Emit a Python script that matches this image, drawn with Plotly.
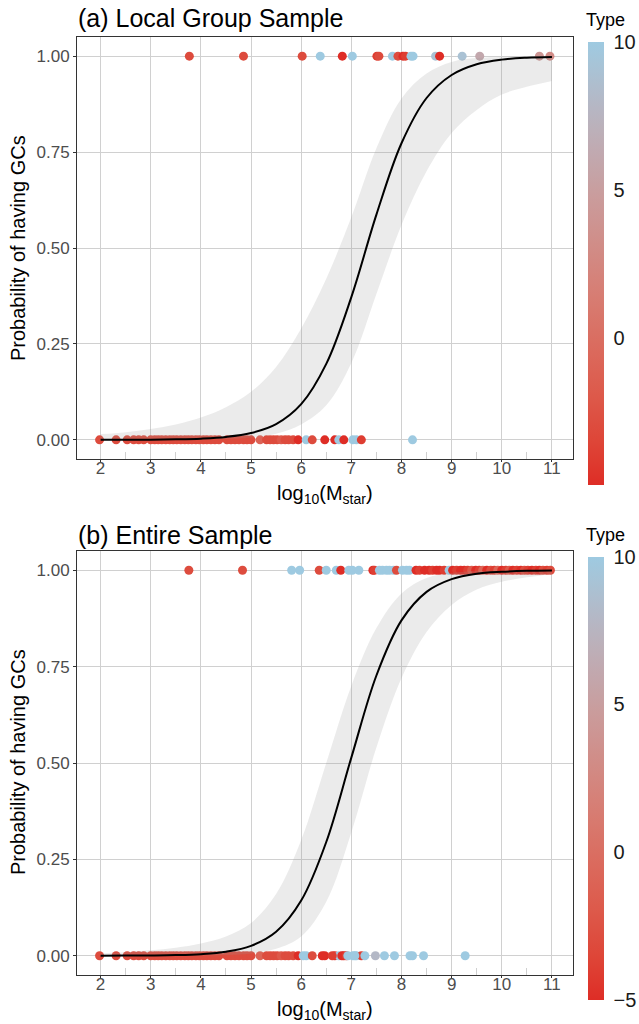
import plotly.graph_objects as go

# ---------------- data ----------------
# (a) Local Group sample: galaxies with GCs (y = 1)
lg_gc_mass = [3.77, 4.85, 6.02, 6.38, 6.82, 7.02, 7.51, 7.55, 7.82, 7.93, 8.03, 8.08,
              8.19, 8.23, 8.68, 8.76, 9.21, 9.56, 10.75, 10.96]
lg_gc_type = [-3, -3, -3, 10, -5, 10, -4, -3, 10, -3, -5, -4,
              10, 10, 9, -5, 9, 6, 4, 3]

# (a) Local Group sample: galaxies without GCs (y = 0)
lg_nogc_mass = [1.98, 2.31, 2.53, 2.66, 2.76, 2.86, 3.00, 3.08, 3.15, 3.22, 3.30, 3.38,
                3.45, 3.52, 3.60, 3.68, 3.75, 3.82, 3.90, 3.97, 4.05, 4.12, 4.20, 4.28,
                4.36, 4.52, 4.60, 4.68, 4.76, 4.85, 4.92, 5.00, 5.18, 5.31, 5.38, 5.45,
                5.52, 5.60, 5.68, 5.75, 5.84, 5.94, 6.10, 6.22, 6.47, 6.67, 6.75, 6.85,
                7.03, 7.10, 7.20, 8.22]
lg_nogc_type = [-3, -3, -3, -3, -3, -3, -3, -3, -3, -3, -3, -3,
                -3, -3, -3, -3, -3, -3, -3, -3, -3, -3, -3, -3,
                -3, -3, -3, -3, -3, -3, -3, -3, -1, -3, -3, -3,
                -3, -2, -3, -3, -3, -5, 10, -3, -5, -5, 10, -5,
                10, 10, -4, 10]

# (b) Entire sample: galaxies with GCs (y = 1)
all_gc_mass = [3.76, 4.83, 5.81, 5.97, 6.36, 6.50, 6.70, 6.79, 6.95, 7.02, 7.15, 7.43,
               7.46, 7.56, 7.62, 7.70, 7.76, 7.84, 7.90, 8.02, 8.10, 8.16, 8.29, 8.36,
               8.46, 8.55, 8.62, 8.70, 8.76, 8.85, 8.95, 9.02, 9.10, 9.18, 9.25, 9.32,
               9.40, 9.48, 9.55, 9.62, 9.70, 9.78, 9.85, 9.92, 10.00, 10.08, 10.15, 10.22,
               10.30, 10.38, 10.45, 10.52, 10.60, 10.68, 10.75, 10.82, 10.90, 10.97]
all_gc_type = [-3, -3, 10, 10, -3, 10, 10, -5, 10, 10, 10, -5,
               -4, 10, 10, 10, 10, 10, -3, 10, 10, 10, -5, -4,
               -5, -5, -4, -5, -5, -4, 10, -5, -4, -5, -5, -4,
               -2, -5, -4, -1, -5, -3, -4, -1, -5, -4, -2, -5,
               -4, -5, -3, -4, -5, -4, -5, -3, -4, -3]

# (b) Entire sample: galaxies without GCs (y = 0)
all_nogc_mass = lg_nogc_mass + [6.04, 6.42, 6.62, 6.81, 6.90, 6.93, 7.07, 7.27, 7.48,
                                7.66, 7.86, 8.17, 8.44, 9.27]
all_nogc_type = lg_nogc_type + [10, -5, -4, -5, -4, 10, 10, 10, 8,
                                10, 10, 10, 10, 10]

# logistic fits with 95% bands
fit_mass = [2.0, 2.5, 3.0, 3.5, 4.0, 4.5, 5.0, 5.5, 6.0, 6.5, 7.0, 7.5, 8.0, 8.5,
            9.0, 9.5, 10.0, 10.5, 11.0]
lg_fit = [0.0001, 0.0002, 0.0005, 0.0013, 0.0031, 0.0074, 0.0176, 0.041, 0.093, 0.198,
          0.372, 0.587, 0.773, 0.891, 0.951, 0.979, 0.991, 0.996, 0.998]
lg_lo = [0.0, 0.0, 0.0001, 0.0003, 0.001, 0.002, 0.006, 0.016, 0.04, 0.09,
         0.20, 0.38, 0.56, 0.70, 0.80, 0.86, 0.90, 0.92, 0.935]
lg_hi = [0.015, 0.02, 0.028, 0.04, 0.058, 0.085, 0.125, 0.19, 0.29, 0.42,
         0.58, 0.76, 0.89, 0.955, 0.985, 0.995, 0.998, 0.999, 1.0]
all_fit = [0.0001, 0.0003, 0.0007, 0.0016, 0.0041, 0.0103, 0.0255, 0.062, 0.143, 0.295,
           0.514, 0.727, 0.870, 0.944, 0.977, 0.991, 0.996, 0.9985, 0.9994]
all_lo = [0.0, 0.0, 0.0001, 0.0002, 0.0006, 0.002, 0.006, 0.018, 0.05, 0.14,
          0.32, 0.54, 0.72, 0.84, 0.91, 0.95, 0.97, 0.982, 0.99]
all_hi = [0.006, 0.009, 0.014, 0.021, 0.032, 0.05, 0.085, 0.16, 0.30, 0.50,
          0.70, 0.85, 0.94, 0.98, 0.993, 0.998, 0.999, 1.0, 1.0]

x_ticks = [2, 3, 4, 5, 6, 7, 8, 9, 10, 11]
y_ticks = [0, 0.25, 0.5, 0.75, 1.0]


# ---------------- colour scale (Lab interpolation) ----------------
def _hex_rgb(h):
    h = h.lstrip("#")
    return [int(h[i:i + 2], 16) for i in (0, 2, 4)]


def _rgb_lab(rgb):
    lin = []
    for c in rgb:
        c = c / 255.0
        lin.append(c / 12.92 if c <= 0.04045 else ((c + 0.055) / 1.055) ** 2.4)
    r, g, b = lin
    X = (0.4124 * r + 0.3576 * g + 0.1805 * b) / 0.95047
    Y = 0.2126 * r + 0.7152 * g + 0.0722 * b
    Z = (0.0193 * r + 0.1192 * g + 0.9505 * b) / 1.08883

    def f(t):
        return t ** (1 / 3) if t > 0.008856 else 7.787 * t + 16 / 116
    return [116 * f(Y) - 16, 500 * (f(X) - f(Y)), 200 * (f(Y) - f(Z))]


def _lab_rgb(lab):
    L, a, b = lab
    fy = (L + 16) / 116
    fx = fy + a / 500
    fz = fy - b / 200

    def finv(t):
        return t ** 3 if t ** 3 > 0.008856 else (t - 16 / 116) / 7.787
    X, Y, Z = finv(fx) * 0.95047, finv(fy), finv(fz) * 1.08883
    r = 3.2406 * X - 1.5372 * Y - 0.4986 * Z
    g = -0.9689 * X + 1.8758 * Y + 0.0415 * Z
    bb = 0.0557 * X - 0.2040 * Y + 1.0570 * Z
    out = []
    for c in (r, g, bb):
        c = 12.92 * c if c <= 0.0031308 else 1.055 * c ** (1 / 2.4) - 0.055
        out.append(int(round(min(max(c, 0), 1) * 255)))
    return out


low_lab = _rgb_lab(_hex_rgb("#DE2D26"))
high_lab = _rgb_lab(_hex_rgb("#9ECAE1"))
n_stops = 21
type_scale = []
for i in range(n_stops):
    t = i / (n_stops - 1)
    lab = [lo + (hi - lo) * t for lo, hi in zip(low_lab, high_lab)]
    r, g, b = _lab_rgb(lab)
    type_scale.append([t, f"rgb({r},{g},{b})"])

# ---------------- figure ----------------
W, H = 639, 1024
FONT = "Liberation Sans, Arial, Helvetica, sans-serif"
BAND = "rgba(153,153,153,0.2)"


def px_x(p):
    return p / W


def px_y(p):
    return 1 - p / H


fig = go.Figure()

panels = [
    dict(xa="x", ya="y", cax="coloraxis", gc_m=lg_gc_mass, gc_t=lg_gc_type,
         no_m=lg_nogc_mass, no_t=lg_nogc_type, fit=lg_fit, lo=lg_lo, hi=lg_hi),
    dict(xa="x2", ya="y2", cax="coloraxis2", gc_m=all_gc_mass, gc_t=all_gc_type,
         no_m=all_nogc_mass, no_t=all_nogc_type, fit=all_fit, lo=all_lo, hi=all_hi),
]

for p in panels:
    fig.add_trace(go.Scatter(
        x=p["no_m"], y=[0] * len(p["no_m"]), mode="markers", xaxis=p["xa"], yaxis=p["ya"],
        marker=dict(size=9, color=p["no_t"], coloraxis=p["cax"], line=dict(width=0)),
        showlegend=False, hoverinfo="x+y"))
    fig.add_trace(go.Scatter(
        x=p["gc_m"], y=[1] * len(p["gc_m"]), mode="markers", xaxis=p["xa"], yaxis=p["ya"],
        marker=dict(size=9, color=p["gc_t"], coloraxis=p["cax"], line=dict(width=0)),
        showlegend=False, hoverinfo="x+y"))
    fig.add_trace(go.Scatter(
        x=fit_mass, y=p["hi"], mode="lines", line=dict(width=0, shape="spline"),
        xaxis=p["xa"], yaxis=p["ya"], showlegend=False, hoverinfo="skip"))
    fig.add_trace(go.Scatter(
        x=fit_mass, y=p["lo"], mode="lines", line=dict(width=0, shape="spline"),
        fill="tonexty", fillcolor=BAND,
        xaxis=p["xa"], yaxis=p["ya"], showlegend=False, hoverinfo="skip"))
    fig.add_trace(go.Scatter(
        x=fit_mass, y=p["fit"], mode="lines", line=dict(color="black", width=2, shape="spline"),
        xaxis=p["xa"], yaxis=p["ya"], showlegend=False))

x_dom = [px_x(77), px_x(573)]
dom_a = [px_y(459), px_y(37)]
dom_b = [px_y(975), px_y(551)]

xaxis_style = dict(
    range=[1.53, 11.42], tickvals=x_ticks, ticks="outside", ticklen=2, tickcolor="#333333",
    ticklabelstandoff=-8,
    tickfont=dict(size=17, color="#4D4D4D", family=FONT),
    showgrid=True, gridcolor="#D0D0D0", gridwidth=1, zeroline=False,
    showline=True, linecolor="#333333", linewidth=1, mirror=True,
    minor=dict(dtick=0.5, tick0=0, showgrid=False, ticks="inside", ticklen=7,
               tickcolor="#D0D0D0"),
    domain=x_dom,
)
yaxis_style = dict(
    range=[-0.05, 1.05], tickvals=y_ticks, ticktext=[f"{v:.2f}" for v in y_ticks],
    ticks="outside", ticklen=3, tickcolor="#333333",
    tickfont=dict(size=17, color="#4D4D4D", family=FONT),
    showgrid=True, gridcolor="#D0D0D0", gridwidth=1, zeroline=False,
    showline=True, linecolor="#333333", linewidth=1, mirror=True,
)

fig.update_layout(
    xaxis=dict(**xaxis_style, anchor="y"),
    yaxis=dict(**yaxis_style, domain=dom_a, anchor="x"),
    xaxis2=dict(**xaxis_style, anchor="y2"),
    yaxis2=dict(**yaxis_style, domain=dom_b, anchor="x2"),
)

cbar_common = dict(
    thickness=16, lenmode="pixels", len=443, x=px_x(588), xanchor="left", xpad=0, ypad=0,
    yanchor="middle", outlinewidth=0, ticks="outside", ticklen=6,
    tickcolor="rgba(0,0,0,0)",
    tickfont=dict(size=20, color="#1A1A1A", family=FONT), tickvals=[-5, 0, 5, 10],
)
fig.update_layout(
    coloraxis=dict(colorscale=type_scale, cmin=-4.95, cmax=10,
                   colorbar=dict(**cbar_common, y=px_y((42 + 485) / 2))),
    coloraxis2=dict(colorscale=type_scale, cmin=-5, cmax=10,
                    colorbar=dict(**cbar_common, y=px_y((557 + 999) / 2))),
)

annotations = []
for title, top, title_y, type_y, xtitle_y in [
        ("(a) Local Group Sample", 37, 18, 20, 494),
        ("(b) Entire Sample", 551, 535, 535, 1010)]:
    annotations.append(dict(text=title, x=px_x(76), y=px_y(title_y), xref="paper", yref="paper",
                            xanchor="left", yanchor="middle", showarrow=False,
                            font=dict(size=25, color="black", family=FONT)))
    annotations.append(dict(text="Type", x=px_x(584), y=px_y(type_y), xref="paper", yref="paper",
                            xanchor="left", yanchor="middle", showarrow=False,
                            font=dict(size=18, color="black", family=FONT)))
    annotations.append(dict(text="Probability of having GCs", x=px_x(18),
                            y=px_y(top + 211), xref="paper", yref="paper",
                            xanchor="center", yanchor="middle", textangle=-90, showarrow=False,
                            font=dict(size=20, color="black", family=FONT)))
    annotations.append(dict(text="log<sub>10</sub>(M<sub>star</sub>)", x=px_x(325),
                            y=px_y(xtitle_y), xref="paper", yref="paper",
                            xanchor="center", yanchor="middle", showarrow=False,
                            font=dict(size=20, color="black", family=FONT)))

fig.update_layout(
    width=W, height=H, autosize=False,
    margin=dict(l=0, r=0, t=0, b=0, autoexpand=False),
    paper_bgcolor="white", plot_bgcolor="white",
    font=dict(family=FONT),
    annotations=annotations,
)

fig.write_html("out.html")
